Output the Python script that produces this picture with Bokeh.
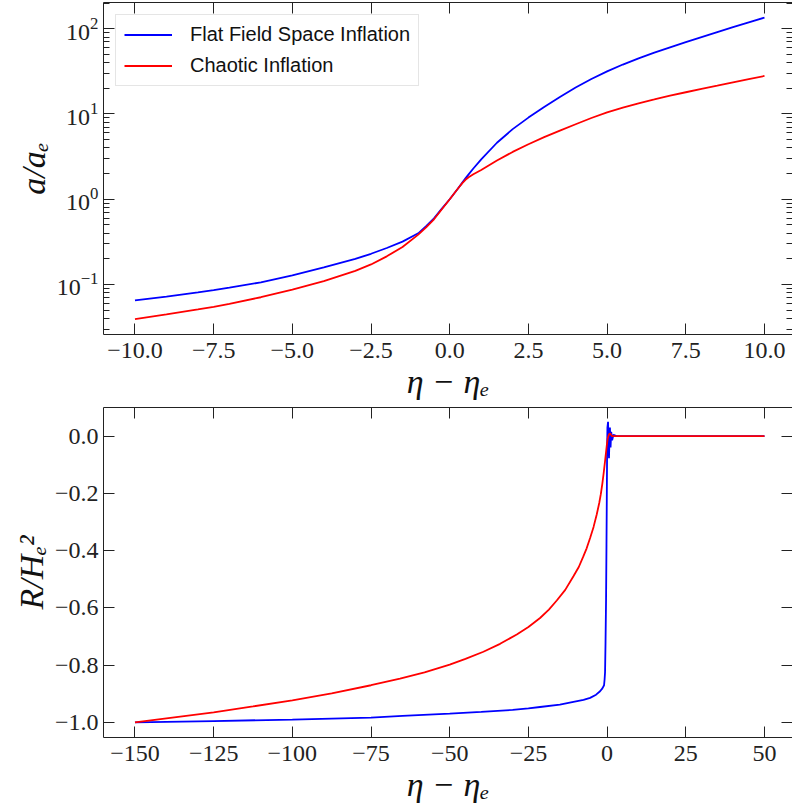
from bokeh.plotting import figure
from bokeh.models import (Range1d, FixedTicker, LinearAxis, LogAxis, LogTicker,
                          Legend, LegendItem)
from bokeh.layouts import column
from bokeh.embed import file_html
from bokeh.resources import INLINE

# ---------------- data ----------------
eta_top = [-10, -9, -8, -7.5, -7, -6, -5, -4, -3, -2.5, -2, -1.5, -1, -0.75,
           -0.5, -0.25, 0, 0.25, 0.4, 0.5, 0.6, 0.75, 1, 1.5, 2, 2.5, 3, 3.5,
           4, 4.5, 5, 5.5, 6, 6.5, 7, 7.5, 8, 8.5, 9, 9.5, 10]
a_flat = [0.0649, 0.0721, 0.0807, 0.0857, 0.0916, 0.1059, 0.1279, 0.1585,
          0.1995, 0.2291, 0.2679, 0.3184, 0.3981, 0.4842, 0.5957, 0.7762, 1.0,
          1.318, 1.567, 1.758, 1.959, 2.291, 2.935, 4.597, 6.645, 9.069, 12.09,
          15.85, 20.42, 25.70, 31.62, 38.02, 44.93, 52.48, 60.60, 69.58, 79.80,
          91.41, 104.4, 118.9, 134.9]
a_chaotic = [0.0392, 0.0445, 0.0509, 0.0547, 0.0593, 0.0708, 0.0871, 0.1096,
             0.1445, 0.1718, 0.2138, 0.2754, 0.3846, 0.4677, 0.5821, 0.7621,
             1.0, 1.318, 1.542, 1.690, 1.811, 1.963, 2.203, 2.851, 3.589, 4.416,
             5.346, 6.383, 7.586, 8.974, 10.47, 11.89, 13.34, 14.79, 16.41,
             17.99, 19.72, 21.53, 23.55, 25.70, 27.93]

eta_R_flat = [-150, -125, -100, -75, -65, -50, -40, -30, -25, -21.3, -15,
              -10.7, -7.5, -5.4, -3.5, -2.24, -1.5, -0.97, -0.8, -0.65, -0.5,
              -0.33, -0.2, -0.1, 0.0, 0.1, 0.3, 0.45, 0.6, 0.75, 0.9, 1.1, 1.3,
              1.6, 2, 3, 10, 25, 50]
R_flat = [-1.0, -0.995, -0.990, -0.983, -0.977, -0.969, -0.963, -0.956, -0.951,
          -0.946, -0.938, -0.928, -0.921, -0.914, -0.903, -0.891, -0.881,
          -0.870, -0.850, -0.824, -0.720, -0.569, -0.380, -0.222, -0.050,
          0.030, 0.050, -0.020, -0.077, -0.010, 0.030, -0.040, 0.015, -0.015,
          0.005, 0.0, 0.0, 0.0, 0.0]

eta_R_chaotic = [-150, -137.5, -125, -112.5, -100, -87.5, -75, -65.8, -58, -50,
                 -45, -39.3, -34, -28.7, -25, -21.3, -18.5, -16, -13.3, -10.7,
                 -9, -7.55, -6.5, -5.4, -4.3, -3.3, -2.5, -2, -1.5, -1.1, -0.6,
                 -0.1, 0.2, 0.4, 0.7, 1.0, 1.5, 3, 10, 25, 50]
R_chaotic = [-1.0, -0.9825, -0.965, -0.944, -0.9225, -0.898, -0.870, -0.847,
             -0.825, -0.798, -0.778, -0.753, -0.7254, -0.6925, -0.6666, -0.6351,
             -0.6057, -0.5741, -0.537, -0.4893, -0.457, -0.420, -0.3917, -0.3555,
             -0.317, -0.2736, -0.2336, -0.2026, -0.1646, -0.1296, -0.082, -0.032,
             -0.008, 0.0, 0.008, 0.009, 0.0, 0.0, 0.0, 0.0, 0.0]

top_x_ticks = [-10, -7.5, -5, -2.5, 0, 2.5, 5, 7.5, 10]
top_x_labels = ["\u221210.0", "\u22127.5", "\u22125.0", "\u22122.5", "0.0",
                "2.5", "5.0", "7.5", "10.0"]
bot_x_ticks = [-150, -125, -100, -75, -50, -25, 0, 25, 50]
bot_x_labels = ["\u2212150", "\u2212125", "\u2212100", "\u221275", "\u221250",
                "\u221225", "0", "25", "50"]
bot_y_ticks = [-1, -0.8, -0.6, -0.4, -0.2, 0]
bot_y_labels = ["\u22121.0", "\u22120.8", "\u22120.6", "\u22120.4", "\u22120.2", "0.0"]

series_names = ["Flat Field Space Inflation", "Chaotic Inflation"]
x_label = "\u03b7 \u2212 \u03b7\u2091"
top_y_label = "a/a\u2091"
bot_y_label = "R/H\u2091\u00b2"

# ---------------- styling ----------------
SERIF = "Liberation Serif"
INK = "#222222"
BLUE = "#0000ff"
RED = "#ff0000"
W = 792


def style_axis(ax, show_labels=True, standoff=5):
    ax.major_tick_in = 11
    ax.major_tick_out = 0
    ax.minor_tick_in = 6
    ax.minor_tick_out = 0
    ax.major_tick_line_color = INK
    ax.minor_tick_line_color = INK
    ax.major_tick_line_width = 1
    ax.minor_tick_line_width = 1
    ax.axis_line_color = INK
    ax.axis_line_width = 1
    ax.major_label_text_font = SERIF
    ax.axis_label_text_font = SERIF
    ax.axis_label_text_font_style = "italic"
    ax.axis_label_text_font_size = "34px"
    ax.axis_label_text_color = "#111111"
    ax.major_label_text_font_size = "24px"
    if show_labels:
        ax.major_label_text_color = INK
        ax.major_label_standoff = standoff
        ax.axis_label_standoff = 2
    else:
        ax.major_label_text_color = None
        ax.major_label_standoff = 0


def base_fig(height, x_range, y_range, y_type, mb_top, mb_bottom):
    p = figure(width=W, height=height, x_range=x_range, y_range=y_range,
               y_axis_type=y_type, output_backend="svg", toolbar_location=None,
               min_border_left=103, min_border_right=0, min_border_top=mb_top,
               min_border_bottom=mb_bottom)
    p.outline_line_color = None
    p.xgrid.grid_line_color = None
    p.ygrid.grid_line_color = None
    p.background_fill_color = "white"
    p.border_fill_color = "white"
    return p


# ---------------- top panel: a / a_e ----------------
p1 = base_fig(406, Range1d(-11, 10.89), Range1d(0.02588, 203.2), "log", 2, 72)
r1 = p1.line(eta_top, a_flat, line_color=BLUE, line_width=1.8)
r2 = p1.line(eta_top, a_chaotic, line_color=RED, line_width=1.8)

style_axis(p1.xaxis[0], standoff=8)
p1.xaxis[0].ticker = FixedTicker(ticks=top_x_ticks)
p1.xaxis[0].major_label_overrides = dict(zip(top_x_ticks, top_x_labels))
p1.xaxis[0].axis_label = x_label

style_axis(p1.yaxis[0], standoff=5)
p1.yaxis[0].ticker = LogTicker(num_minor_ticks=10)
p1.yaxis[0].axis_label = top_y_label

top1 = LinearAxis(ticker=FixedTicker(ticks=top_x_ticks))
style_axis(top1, show_labels=False)
p1.add_layout(top1, "above")
right1 = LogAxis(ticker=LogTicker(num_minor_ticks=10))
style_axis(right1, show_labels=False)
right1.axis_line_color = None
p1.add_layout(right1, "right")

legend = Legend(items=[LegendItem(label=series_names[0], renderers=[r1]),
                       LegendItem(label=series_names[1], renderers=[r2])],
                location="top_left")
legend.margin = 12
legend.padding = 8
legend.spacing = 8
legend.glyph_width = 48
legend.glyph_height = 23
legend.label_height = 23
legend.label_standoff = 18
legend.label_text_font = "Liberation Sans"
legend.label_text_font_size = "20px"
legend.label_text_color = "#111111"
legend.border_line_color = "#cccccc"
legend.border_line_width = 1
legend.background_fill_color = "white"
legend.background_fill_alpha = 0.8
p1.add_layout(legend)

# ---------------- bottom panel: R / H_e^2 ----------------
p2 = base_fig(399, Range1d(-160, 58.9), Range1d(-1.0525, 0.1), "linear", 1, 66)
p2.line(eta_R_flat, R_flat, line_color=BLUE, line_width=1.8)
p2.line(eta_R_chaotic, R_chaotic, line_color=RED, line_width=1.8)

style_axis(p2.xaxis[0], standoff=8)
p2.xaxis[0].ticker = FixedTicker(ticks=bot_x_ticks)
p2.xaxis[0].major_label_overrides = dict(zip(bot_x_ticks, bot_x_labels))
p2.xaxis[0].axis_label = x_label

style_axis(p2.yaxis[0], standoff=5)
p2.yaxis[0].ticker = FixedTicker(ticks=bot_y_ticks)
p2.yaxis[0].major_label_overrides = dict(zip(bot_y_ticks, bot_y_labels))
p2.yaxis[0].axis_label = bot_y_label

top2 = LinearAxis(ticker=FixedTicker(ticks=bot_x_ticks))
style_axis(top2, show_labels=False)
p2.add_layout(top2, "above")
right2 = LinearAxis(ticker=FixedTicker(ticks=bot_y_ticks))
style_axis(right2, show_labels=False)
right2.axis_line_color = None
p2.add_layout(right2, "right")

layout = column(p1, p2)
open("out.html", "w").write(file_html(layout, INLINE))
